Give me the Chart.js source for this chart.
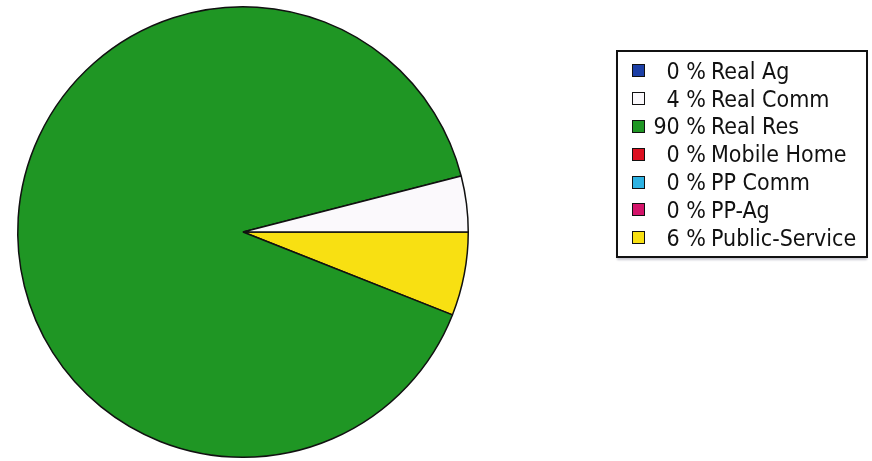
<!DOCTYPE html>
<html>
<head>
<meta charset="utf-8">
<script src="https://cdn.jsdelivr.net/npm/chart.js@4/dist/chart.umd.min.js"></script>
<style>
  html, body { margin: 0; padding: 0; background: #fff; }
  #wrap { position: relative; width: 872px; height: 461px; }
  #legend {
    position: absolute; left: 616px; top: 50px; width: 252px; height: 208px;
    border: 2px solid #111; box-sizing: border-box; background: #fff;
    box-shadow: 0 3px 2px -1px #c8c8d0;
    font-family: "DejaVu Sans Condensed", "DejaVu Sans", sans-serif; font-size: 23px; color: #111;
    padding-top: 5px;
  }
  .row { display: flex; align-items: center; height: 27.8px; white-space: nowrap; }
  .box { width: 11px; height: 11px; border: 1.5px solid #111; margin-left: 14px; flex: none; }
  .pct { width: 61px; text-align: right; margin-right: 5px; flex: none; }
</style>
</head>
<body>
<div id="wrap">
  <canvas id="grafico" width="872" height="461"></canvas>
  <div id="legend"></div>
</div>
<script>
// valores, na ordem da legenda
const categorias = ['Real Ag', 'Real Comm', 'Real Res', 'Mobile Home', 'PP Comm', 'PP-Ag', 'Public-Service'];
const percentuais = [0, 4, 90, 0, 0, 0, 6];
const cores = ['#1c3fa6', '#fbf9fc', '#1f9624', '#dc1020', '#2eb2e2', '#d4146a', '#f8e012'];

// a pizza original gira no sentido anti-horario, entao invertemos a ordem
const labelsInv = categorias.slice().reverse();
const valoresInv = percentuais.slice().reverse();
const coresInv = cores.slice().reverse();

const ctx = document.getElementById('grafico').getContext('2d');
new Chart(ctx, {
  type: 'pie',
  data: {
    labels: labelsInv,
    datasets: [{
      data: valoresInv,
      backgroundColor: coresInv,
      borderColor: '#111',
      borderWidth: 1.5,
      hoverOffset: 0
    }]
  },
  options: {
    responsive: false,
    animation: false,
    rotation: 90,
    layout: { padding: { left: 17, top: 6, right: 403, bottom: 3 } },
    plugins: {
      legend: { display: false },
      tooltip: { enabled: false }
    }
  }
});

// legenda em HTML
const leg = document.getElementById('legend');
categorias.forEach((nome, i) => {
  const row = document.createElement('div');
  row.className = 'row';
  row.innerHTML = '<span class="box" style="background:' + cores[i] + '"></span>' +
    '<span class="pct">' + percentuais[i] + ' %</span><span>' + nome + '</span>';
  leg.appendChild(row);
});
</script>
</body>
</html>
